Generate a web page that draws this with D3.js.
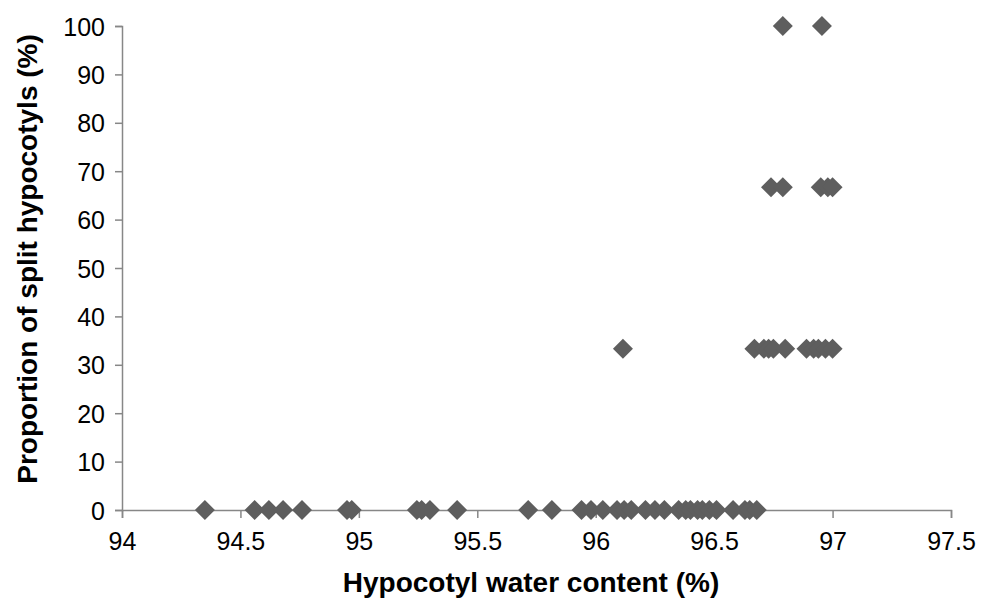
<!DOCTYPE html>
<html lang="en">
<head>
    <meta charset="UTF-8">
    <title>Hypocotyl scatter</title>
    <script src="https://d3js.org/d3.v7.min.js"></script>
    <style>
        body{
            margin: 0;
            background-color: white;
        }
        .tick text{
            font-family: "Liberation Sans", Arial, sans-serif;
            font-size: 25px;
            fill: black;
        }
        .axisTitle{
            font-family: "Liberation Sans", Arial, sans-serif;
            font-size: 28px;
            font-weight: bold;
        }
    </style>
</head>
<body>
<svg id="canvas" width="983" height="604"></svg>
<script>
    // points, one row per y level
    let waterZero = [94.35, 94.56, 94.62, 94.68, 94.76, 94.95, 94.97, 95.245, 95.265, 95.30, 95.415,
        95.715, 95.815, 95.94, 95.98, 96.03, 96.09, 96.12, 96.15, 96.21, 96.25, 96.29, 96.35, 96.38,
        96.40, 96.43, 96.45, 96.48, 96.51, 96.58, 96.63, 96.65, 96.68];
    let waterThird = [96.115, 96.67, 96.71, 96.73, 96.75, 96.80, 96.89, 96.92, 96.94, 96.97, 97.00];
    let waterTwoThirds = [96.74, 96.79, 96.95, 96.98, 97.00];
    let waterAll = [96.79, 96.955];
    let rowLevels = [0, 33.33, 66.67, 100];

    let xTicks = [94, 94.5, 95, 95.5, 96, 96.5, 97, 97.5];
    let yTicks = [0, 10, 20, 30, 40, 50, 60, 70, 80, 90, 100];

    let points = [];
    [waterZero, waterThird, waterTwoThirds, waterAll].forEach(function (row, i){
        row.forEach(function (w){ points.push({x: w, y: rowLevels[i]}) })
    })

    let svg = d3.select('svg');
    let plotLeft = 122, plotRight = 951, plotTop = 26, plotBottom = 510;

    let x = d3.scaleLinear().domain([94, 97.5]).range([plotLeft, plotRight]);
    let y = d3.scaleLinear().domain([0, 100]).range([plotBottom, plotTop]);

    let xAxis = svg.append('g')
        .attr("transform", "translate(0," + plotBottom + ")")
        .call(d3.axisBottom(x).tickValues(xTicks).tickFormat(d3.format("")).tickSizeOuter(0).tickSize(8).tickPadding(14));
    let yAxis = svg.append('g')
        .attr("transform", "translate(" + plotLeft + ",0)")
        .call(d3.axisLeft(y).tickValues(yTicks).tickSizeOuter(0).tickSize(7).tickPadding(10));

    [xAxis, yAxis].forEach(function (a){
        a.selectAll("path, line").attr("stroke", "#878787").attr("stroke-width", 1.5);
    })
    yAxis.selectAll(".tick text").attr("dy", "0.36em");

    let diamond = d3.symbol().type(d3.symbolSquare).size(200);
    svg.append('g').selectAll('path')
        .data(points)
        .enter()
        .append('path')
        .attr("d", diamond)
        .attr("transform", function (d){ return "translate(" + x(d.x) + "," + y(d.y) + ") rotate(45)" })
        .attr("fill", "#5e5e5e");

    svg.append('text')
        .attr("class", "axisTitle")
        .attr("x", 531)
        .attr("y", 592)
        .attr("text-anchor", "middle")
        .text("Hypocotyl water content (%)");

    svg.append('text')
        .attr("class", "axisTitle")
        .attr("transform", "translate(37,259) rotate(-90)")
        .attr("text-anchor", "middle")
        .text("Proportion of split hypocotyls (%)");
</script>
</body>
</html>
